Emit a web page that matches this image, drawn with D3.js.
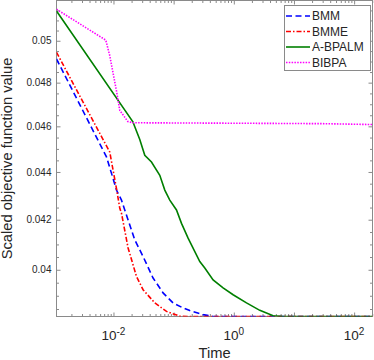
<!DOCTYPE html>
<html>
<head>
<meta charset="utf-8">
<script src="https://cdn.jsdelivr.net/npm/d3@7"></script>
<style>
	html, body { margin: 0; padding: 0; background: #fff; }
	svg { display: block; font-family: "Liberation Sans", Arial, sans-serif; }
</style>
</head>
<body>
<svg class="chart" width="374" height="360"></svg>
<script>
////////////////////////////////////////////////////////////
//// Data //////////////////////////////////////////////////
////////////////////////////////////////////////////////////
const seriesNames = ["BMM", "BMME", "A-BPALM", "BIBPA"];

const bmmTime = [0.00113, 0.00765, 0.00985, 0.01122, 0.01358, 0.0175, 0.02261, 0.03105, 0.04553, 0.06675, 0.0979, 0.1436, 0.1856, 0.3088, 0.4529, 202];
const bmmValue = [0.04912, 0.04465, 0.04372, 0.04323, 0.04281, 0.04199, 0.04118, 0.04052, 0.03968, 0.03911, 0.03873, 0.03854, 0.03844, 0.03829, 0.03822, 0.03822];

const bmmeTime = [0.00113, 0.00868, 0.00985, 0.01122, 0.01273, 0.01358, 0.0175, 0.02412, 0.03105, 0.04861, 0.07605, 0.1265, 0.1856, 202];
const bmmeValue = [0.04944, 0.04486, 0.04408, 0.04329, 0.04247, 0.04227, 0.04086, 0.03974, 0.03923, 0.03873, 0.03841, 0.03823, 0.03822, 0.03822];

const abpalmTime = [0.00113, 0.02118, 0.02261, 0.02736, 0.03314, 0.04283, 0.05886, 0.07127, 0.0863, 0.1115, 0.1351, 0.1739, 0.2721, 0.3296, 0.4529, 0.6639, 0.9736, 1.626, 2.706, 4.502, 6.6, 202];
const abpalmValue = [0.05147, 0.04619, 0.04598, 0.04541, 0.04472, 0.04443, 0.04386, 0.04323, 0.04281, 0.0424, 0.04185, 0.04125, 0.04032, 0.04007, 0.03961, 0.0393, 0.03904, 0.03873, 0.03845, 0.03825, 0.03822, 0.03822];

const bibpaTime = [0.00113, 0.00745, 0.00868, 0.01122, 0.01273, 0.0173, 0.02094, 1, 30, 202];
const bibpaValue = [0.05156, 0.05003, 0.04928, 0.04762, 0.04672, 0.04622, 0.04616, 0.04614, 0.04612, 0.04608];

const xTicks = [1e-2, 1e0, 1e2];
const xTickExponents = ["-2", "0", "2"];
const yTicks = [0.04, 0.042, 0.044, 0.046, 0.048, 0.05];
const yTickLabels = ["0.04", "0.042", "0.044", "0.046", "0.048", "0.05"];

////////////////////////////////////////////////////////////
//// Setup /////////////////////////////////////////////////
////////////////////////////////////////////////////////////
const svg = d3.select(".chart");
const plot = { left: 56.5, right: 372.5, top: 0.5, bottom: 316.5 };
const axisColor = "#8a8a8a";
const textColor = "#262626";

const x = d3.scaleLog().domain([0.00113, 202]).range([plot.left, plot.right]);
const y = d3.scaleLog().domain([0.03822, 0.052]).range([plot.bottom, plot.top]);

const series = [
	{ name: seriesNames[0], time: bmmTime, value: bmmValue, color: "#0000ff", dash: "6,3.5" },
	{ name: seriesNames[1], time: bmmeTime, value: bmmeValue, color: "#ff0000", dash: "5,2,1.5,2" },
	{ name: seriesNames[2], time: abpalmTime, value: abpalmValue, color: "#007f00", dash: null },
	{ name: seriesNames[3], time: bibpaTime, value: bibpaValue, color: "#ff00ff", dash: "1.5,1.3" }
];

// Minor ticks: 2..9 per decade on x, every 0.0005 on y
const xMinor = [];
for (let e = -3; e <= 2; e++) {
	for (let k = 2; k <= 9; k++) {
		const v = k * Math.pow(10, e);
		if (v > x.domain()[0] && v < x.domain()[1]) xMinor.push(v);
	}
}
const xMajor = [1e-2, 1e-1, 1e0, 1e1, 1e2];
const yMinor = d3.range(77, 104).map(k => +(k * 0.0005).toFixed(4))
	.filter(v => !yTicks.some(t => Math.abs(t - v) < 1e-7));

svg.append("defs")
	.append("clipPath")
	.attr("id", "clip")
	.append("rect")
	.attr("x", plot.left)
	.attr("y", plot.top)
	.attr("width", plot.right - plot.left)
	.attr("height", plot.bottom - plot.top);

////////////////////////////////////////////////////////////
//// Axes //////////////////////////////////////////////////
////////////////////////////////////////////////////////////
function styleAxis(g) {
	g.select(".domain").remove();
	g.selectAll("line").attr("stroke", axisColor);
	g.selectAll("text").attr("fill", textColor);
}

const gAxes = svg.append("g");

// bottom / top
gAxes.append("g")
	.attr("transform", `translate(0,${plot.bottom})`)
	.call(d3.axisBottom(x).tickValues(xMinor).tickSize(-2.5).tickFormat(""))
	.call(styleAxis);
gAxes.append("g")
	.attr("transform", `translate(0,${plot.top})`)
	.call(d3.axisTop(x).tickValues(xMinor).tickSize(-2.5).tickFormat(""))
	.call(styleAxis);
gAxes.append("g")
	.attr("transform", `translate(0,${plot.top})`)
	.call(d3.axisTop(x).tickValues(xMajor).tickSize(-4).tickFormat(""))
	.call(styleAxis);

const xAxis = gAxes.append("g")
	.attr("transform", `translate(0,${plot.bottom})`)
	.call(d3.axisBottom(x).tickValues(xMajor).tickSize(-4).tickFormat(""))
	.call(styleAxis);

// exponent labels
const xLabels = gAxes.append("g")
	.attr("font-size", 13.5)
	.attr("fill", textColor)
	.attr("text-anchor", "middle");
xTicks.forEach((t, i) => {
	const txt = xLabels.append("text")
		.attr("x", x(t))
		.attr("y", plot.bottom + 23.5);
	txt.append("tspan").text("10");
	txt.append("tspan")
		.attr("font-size", 10)
		.attr("dy", -5.5)
		.text(xTickExponents[i]);
});

// left / right
gAxes.append("g")
	.attr("transform", `translate(${plot.left},0)`)
	.call(d3.axisLeft(y).tickValues(yMinor).tickSize(-2.5).tickFormat(""))
	.call(styleAxis);
gAxes.append("g")
	.attr("transform", `translate(${plot.right},0)`)
	.call(d3.axisRight(y).tickValues(yMinor).tickSize(-2.5).tickFormat(""))
	.call(styleAxis);
gAxes.append("g")
	.attr("transform", `translate(${plot.right},0)`)
	.call(d3.axisRight(y).tickValues(yTicks).tickSize(-4).tickFormat(""))
	.call(styleAxis);
gAxes.append("g")
	.attr("transform", `translate(${plot.left},0)`)
	.attr("font-size", 13.5)
	.call(d3.axisLeft(y).tickValues(yTicks).tickSize(-4).tickPadding(5)
		.tickFormat((d, i) => yTickLabels[i]))
	.call(styleAxis)
	.call(g => g.selectAll("text").attr("font-family", null));

// box
gAxes.append("rect")
	.attr("x", plot.left)
	.attr("y", plot.top)
	.attr("width", plot.right - plot.left)
	.attr("height", plot.bottom - plot.top)
	.attr("fill", "none")
	.attr("stroke", axisColor);

// axis titles
svg.append("text")
	.attr("x", (plot.left + plot.right) / 2)
	.attr("y", 358)
	.attr("text-anchor", "middle")
	.attr("font-size", 14.7)
	.attr("fill", textColor)
	.text("Time");

svg.append("text")
	.attr("transform", `translate(12,${(plot.top + plot.bottom) / 2}) rotate(-90)`)
	.attr("text-anchor", "middle")
	.attr("font-size", 14.7)
	.attr("fill", textColor)
	.text("Scaled objective function value");

////////////////////////////////////////////////////////////
//// Lines /////////////////////////////////////////////////
////////////////////////////////////////////////////////////
const line = d3.line()
	.x(d => x(d[0]))
	.y(d => y(d[1]));

svg.append("g")
	.attr("clip-path", "url(#clip)")
	.selectAll("path")
	.data(series)
	.join("path")
	.attr("fill", "none")
	.attr("stroke", d => d.color)
	.attr("stroke-width", 1.6)
	.attr("stroke-dasharray", d => d.dash)
	.attr("d", d => line(d.time.map((t, i) => [t, d.value[i]])));

////////////////////////////////////////////////////////////
//// Legend ////////////////////////////////////////////////
////////////////////////////////////////////////////////////
const legend = svg.append("g");
legend.append("rect")
	.attr("x", 284.5)
	.attr("y", 5.5)
	.attr("width", 86)
	.attr("height", 65)
	.attr("fill", "#fff")
	.attr("stroke", axisColor);

const item = legend.selectAll("g.item")
	.data(series)
	.join("g")
	.attr("class", "item")
	.attr("transform", (d, i) => `translate(0,${16 + i * 15.5})`);

item.append("line")
	.attr("x1", 286)
	.attr("x2", 310)
	.attr("stroke", d => d.color)
	.attr("stroke-width", 1.6)
	.attr("stroke-dasharray", d => d.dash);

item.append("text")
	.attr("x", 312)
	.attr("dy", "0.36em")
	.attr("font-size", 12)
	.attr("fill", textColor)
	.text(d => d.name);
</script>
</body>
</html>
